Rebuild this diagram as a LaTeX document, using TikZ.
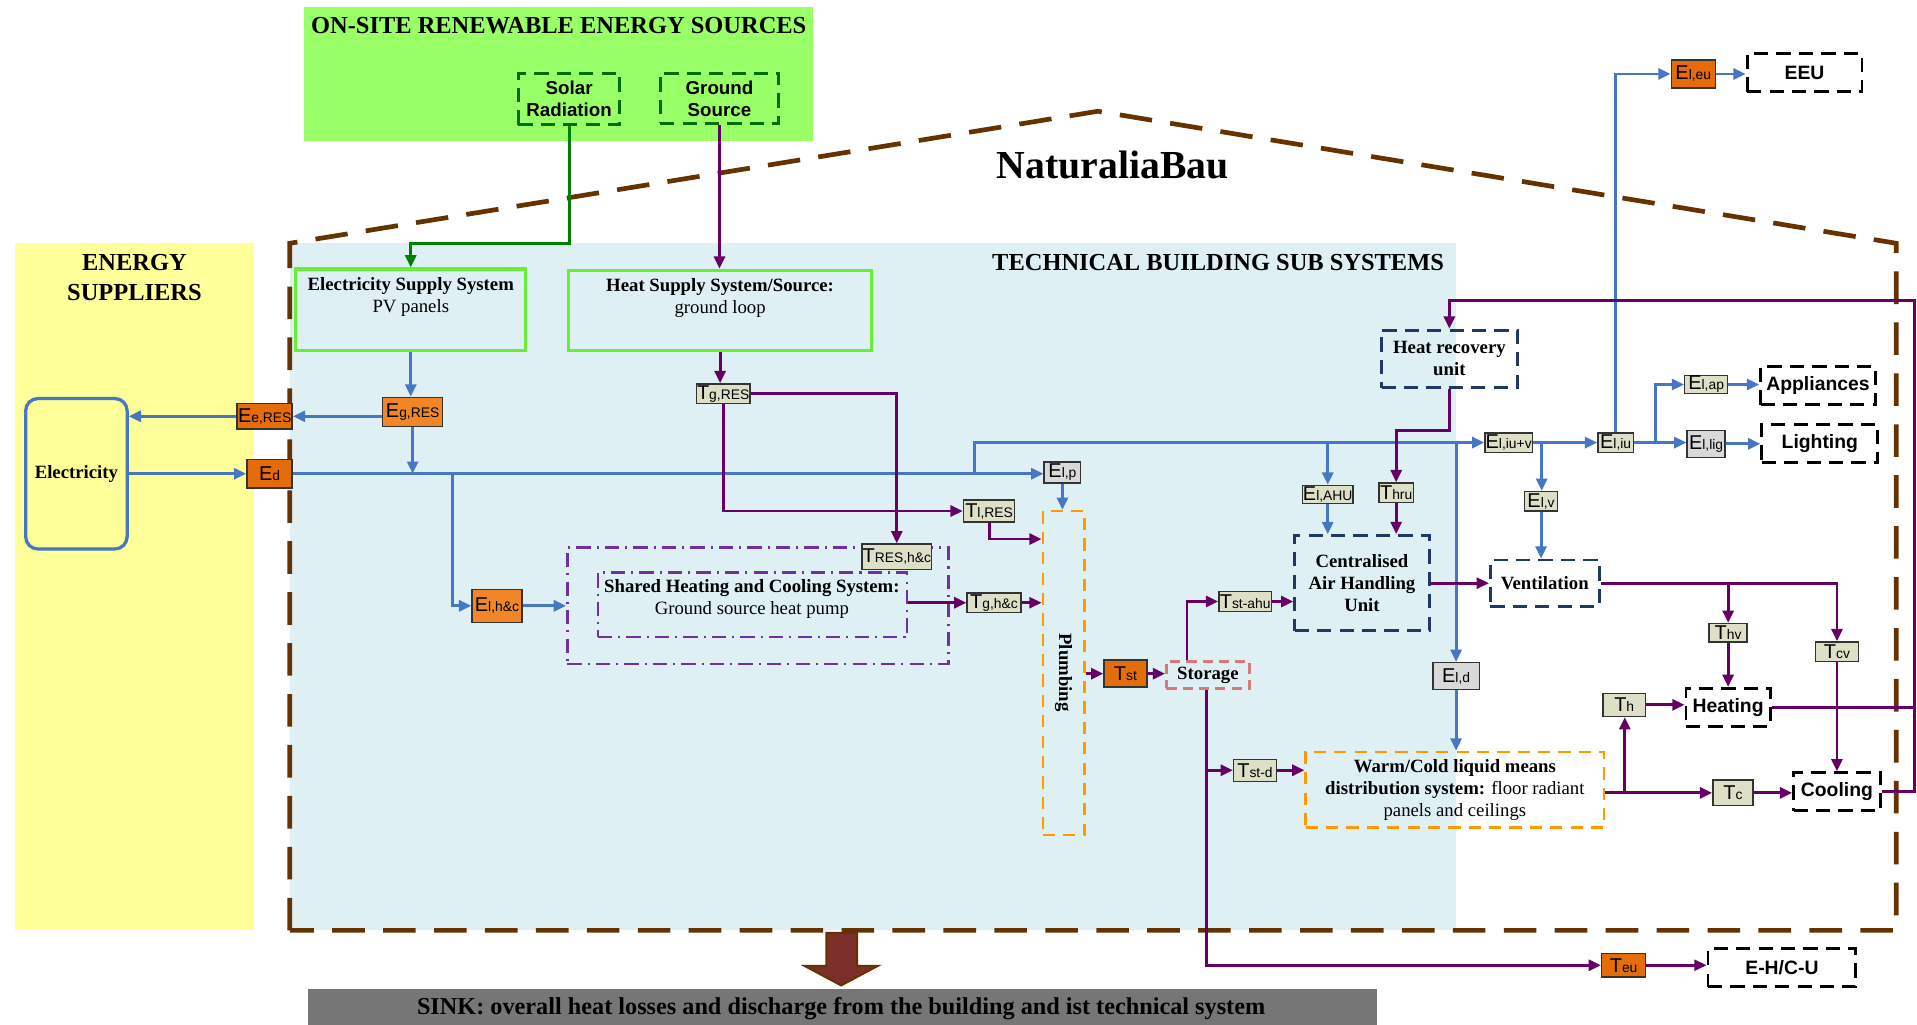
\documentclass[tikz,border=0pt]{standalone}
\usepackage{fontspec}
\setmainfont{Liberation Serif}
\setsansfont{Liberation Sans}
\usetikzlibrary{arrows.meta,calc}
\definecolor{cyel}{RGB}{255,255,153}
\definecolor{cgrn}{RGB}{153,255,102}
\definecolor{cblu}{RGB}{223,240,245}
\definecolor{cbrown}{RGB}{102,51,0}
\definecolor{eline}{RGB}{71,119,196}
\definecolor{tline}{RGB}{102,0,102}
\definecolor{gline}{RGB}{0,128,0}
\definecolor{dgreen}{RGB}{0,110,0}
\definecolor{lgreen}{RGB}{102,240,51}
\definecolor{orgA}{RGB}{228,108,10}
\definecolor{orgB}{RGB}{240,134,40}
\definecolor{beige}{RGB}{221,223,199}
\definecolor{lgray}{RGB}{217,217,217}
\definecolor{shpur}{RGB}{112,48,160}
\definecolor{plor}{RGB}{255,153,0}
\definecolor{stpink}{RGB}{214,120,120}
\definecolor{navy}{RGB}{31,56,100}
\definecolor{sinkg}{RGB}{118,118,118}
\definecolor{sinkarrow}{RGB}{123,46,42}
\newcommand\bx[7]{\node[#6,minimum width={0.6pt*(#4-#2)},minimum height={0.6pt*(#5-#3)}] (#1) at ({(#2+#4)/2},{(#3+#5)/2}) {#7};}
\newcommand\lab[2]{{\fontsize{9.8}{10}\selectfont #1}{\fontsize{6.8}{7}\selectfont #2}}
\tikzset{
 lab/.style={draw=black!80,line width=0.7pt,inner sep=0.3pt,font=\sffamily},
 eor/.style={lab,fill=orgA}, eorb/.style={lab,fill=orgB},
 ebg/.style={lab,fill=beige}, egy/.style={lab,fill=lgray},
 dbox/.style={draw=navy,line width=1.4pt,dash pattern=on 7pt off 4pt,inner sep=0pt,align=center,font=\bfseries\fontsize{9.2}{10.8}\selectfont},
 kbox/.style={dbox,draw=black,font=\sffamily\bfseries\fontsize{9.5}{11}\selectfont},
 sbox/.style={dbox,draw=dgreen,font=\sffamily\bfseries\fontsize{9.2}{10.8}\selectfont},
 obox/.style={draw=plor,line width=1.3pt,dash pattern=on 6pt off 4pt,inner sep=0pt},
 shbox/.style={draw=shpur,line width=1.3pt,dash pattern=on 7pt off 3pt on 1pt off 3pt,inner sep=0pt},
 gbox/.style={draw=lgreen,line width=1.5pt,inner sep=0pt},
 stbox/.style={draw=stpink,line width=1.3pt,dash pattern=on 5pt off 3pt,inner sep=0pt,font=\bfseries\fontsize{9.2}{10.8}\selectfont},
 txt/.style={inner sep=0pt,align=center,font=\fontsize{9.2}{10.8}\selectfont},
 arr/.style={line width=1.4pt,-{Triangle[length=6pt,width=5.4pt]}},
 ea/.style={arr,draw=eline}, ta/.style={arr,draw=tline}, ga/.style={arr,draw=gline},
 tl/.style={line width=1.4pt,draw=tline},
 house/.style={draw=cbrown,line width=2.3pt,dash pattern=on 16pt off 9pt}
}
\begin{document}
\begin{tikzpicture}[x=0.6pt,y=-0.6pt]
\fill[white] (0,0) rectangle (1568,838);
\path[use as bounding box] (0,0) rectangle (1568,838);
% regions
\fill[cyel] (12,199) rectangle (208,761);
\fill[cgrn] (249,6) rectangle (665,115);
\fill[cblu] (237,199) rectangle (1191,761);
\fill[sinkg] (252,809) rectangle (1126,838);
\draw[house] (237,761) -- (237,199) -- (898,91) -- (1551,199) -- (1551,761) -- cycle;
\draw[fill=sinkarrow,draw=cbrown,line width=1pt] (676,763) -- (701,763) -- (701,790) -- (718,790) -- (688,806) -- (658,790) -- (676,790) -- cycle;
% titles
\node[align=center,font=\bfseries\fontsize{12}{14.4}\selectfont] at (110,227) {ENERGY\\SUPPLIERS};
\node[font=\bfseries\fontsize{12}{13}\selectfont] at (457,21) {ON-SITE RENEWABLE ENERGY SOURCES};
\node[anchor=east,font=\bfseries\fontsize{12}{13}\selectfont] at (1187,215) {TECHNICAL BUILDING SUB SYSTEMS};
\node[font=\bfseries\fontsize{19.5}{22}\selectfont] at (910,135) {NaturaliaBau};
\node[font=\bfseries\fontsize{11.9}{13}\selectfont] at (688,825) {SINK: overall heat losses and discharge from the building and ist technical system};
% big boxes
\bx{elec}{21}{326}{104}{449}{draw=eline,line width=1.6pt,rounded corners=6pt,font=\bfseries\fontsize{9.2}{11}\selectfont}{Electricity}
\bx{srad}{424}{60}{507}{102}{sbox}{Solar\\Radiation}
\bx{gsrc}{540}{60}{637}{101}{sbox}{Ground\\Source}
\bx{ess}{242}{220}{430}{287}{gbox}{}
\node[txt] at (336,243) {\textbf{Electricity Supply System}\\PV panels};
\bx{hss}{465}{221}{713}{287}{gbox}{}
\node[txt] at (589,244) {\textbf{Heat Supply System/Source:}\\ground loop};
\bx{shout}{464}{448}{776}{543}{shbox}{}
\bx{shin}{489}{468}{742}{521}{shbox}{}
\node[txt] at (615,490) {\textbf{Shared Heating and Cooling System:}\\Ground source heat pump};
\bx{plumb}{853}{418}{887}{683}{obox}{}
\node[rotate=-90,font=\bfseries\fontsize{9.2}{10.8}\selectfont] at (870,550) {Plumbing};
\bx{stor}{954}{541}{1022}{563}{stbox}{Storage}
\bx{ahu}{1059}{438}{1169}{516}{dbox}{Centralised\\Air Handling\\Unit}
\bx{hru}{1130}{270}{1241}{317}{dbox}{Heat recovery\\unit}
\bx{vent}{1219}{458}{1308}{496}{dbox}{Ventilation}
\bx{wc}{1068}{615}{1312}{677}{obox,txt}{\textbf{Warm/Cold liquid means}\\\textbf{distribution system:} floor radiant\\panels and ceilings}
\bx{eeu}{1429}{44}{1523}{75}{kbox}{EEU}
\bx{appl}{1440}{300}{1534}{331}{kbox}{Appliances}
\bx{light}{1441}{347}{1536}{378}{kbox}{Lighting}
\bx{heat}{1379}{563}{1448}{594}{kbox}{Heating}
\bx{cool}{1467}{632}{1538}{663}{kbox}{Cooling}
\bx{ehcu}{1397}{776}{1518}{807}{kbox}{E-H/C-U}
% labels
\bx{eeres}{194}{330}{239}{351}{eor}{\lab{E}{e,RES}}
\bx{ed}{202}{376}{239}{399}{eor}{\lab{E}{d}}
\bx{egres}{313}{325}{362}{349}{eorb}{\lab{E}{g,RES}}
\bx{eihc}{386}{482}{427}{509}{eorb}{\lab{E}{l,h\&c}}
\bx{tgres}{570}{314}{613}{330}{ebg}{\lab{T}{g,RES}}
\bx{tires}{788}{409}{830}{427}{ebg}{\lab{T}{l,RES}}
\bx{treshc}{705}{445}{762}{466}{ebg}{\lab{T}{RES,h\&c}}
\bx{tghc}{791}{485}{835}{501}{ebg}{\lab{T}{g,h\&c}}
\bx{eip}{854}{378}{884}{395}{egy}{\lab{E}{l,p}}
\bx{tst}{903}{540}{938}{562}{eor}{\lab{T}{st}}
\bx{tstahu}{997}{484}{1040}{500}{ebg}{\lab{T}{st-ahu}}
\bx{tstd}{1009}{621}{1044}{639}{ebg}{\lab{T}{st-d}}
\bx{eiahu}{1066}{397}{1106}{412}{ebg}{\lab{E}{l,AHU}}
\bx{thru}{1128}{395}{1156}{411}{ebg}{\lab{T}{hru}}
\bx{eiuv}{1215}{354}{1253}{370}{ebg}{\lab{E}{l,iu+v}}
\bx{eiu}{1307}{354}{1336}{370}{ebg}{\lab{E}{l,iu}}
\bx{eiv}{1247}{402}{1274}{418}{ebg}{\lab{E}{l,v}}
\bx{eid}{1172}{542}{1210}{564}{egy}{\lab{E}{l,d}}
\bx{eieu}{1367}{49}{1403}{72}{eor}{\lab{E}{l,eu}}
\bx{eiap}{1378}{307}{1413}{322}{ebg}{\lab{E}{l,ap}}
\bx{eilig}{1380}{352}{1411}{374}{egy}{\lab{E}{l,lig}}
\bx{thv}{1398}{510}{1429}{525}{ebg}{\lab{T}{hv}}
\bx{tcv}{1485}{525}{1520}{541}{ebg}{\lab{T}{cv}}
\bx{th}{1311}{567}{1346}{586}{ebg}{\lab{T}{h}}
\bx{tc}{1401}{638}{1434}{659}{ebg}{\lab{T}{c}}
\bx{teu}{1310}{780}{1346}{799}{eor}{\lab{T}{eu}}
% junctions
\coordinate (j1) at (370,387);
\coordinate (j2) at (797,387);
\coordinate (j3) at (988,630);
\coordinate (j4) at (1086,362);
\coordinate (j5) at (1261,362);
\coordinate (j6) at (1191,362);
\coordinate (j7) at (1354,362);
\coordinate (j8) at (1413.5,477);
\coordinate (j9) at (1329,648);
\coordinate (rr) at (1566,246);
% green / source connectors
\draw[ga] (srad.south) -- (srad.south |- 0,199) -| (ess.north);
\draw[ta] (gsrc.south) -- (gsrc.south |- hss.north);
% electricity
\draw[ea] (ess.south) -- (ess.south |- egres.north);
\draw[ea] (egres.west |- eeres.east) -- (eeres.east);
\draw[ea] (eeres.west) -- (eeres.west -| elec.east);
\draw[ea] (elec.east |- ed.west) -- (ed.west);
\draw[ea] (egres.south) -- (egres.south |- ed.east);
\draw[ea] (ed.east) -- (ed.east -| eip.west);
\draw[ea] (j1) |- (eihc.west);
\draw[ea] (eihc.east) -- (eihc.east -| shout.west);
\draw[ea] (j2) |- (eiuv.west);
\draw[ea] (eip.south) -- (eip.south |- plumb.north);
\draw[ea] (j4) -- (j4 |- eiahu.north);
\draw[ea] (eiahu.south) -- (eiahu.south |- ahu.north);
\draw[ea] (eiuv.east) -- (eiuv.east -| eiu.west);
\draw[ea] (j5) -- (j5 |- eiv.north);
\draw[ea] (eiv.south) -- (eiv.south |- vent.north);
\draw[ea] (j6) -- (j6 |- eid.north);
\draw[ea] (eid.south) -- (eid.south |- wc.north);
\draw[ea] (eiu.north) |- (eieu.west);
\draw[ea] (eieu.east) -- (eieu.east -| eeu.west);
\draw[ea] (eiu.east) -- (eiu.east -| eilig.west);
\draw[ea] (j7) |- (eiap.west);
\draw[ea] (eiap.east) -- (eiap.east -| appl.west);
\draw[ea] (eilig.east) -- (eilig.east -| light.west);
% heat
\draw[ta] (hss.south) -- (hss.south |- tgres.north);
\draw[ta] (tgres.east) -| (treshc.north);
\draw[ta] (tgres.south) |- (tires.west);
\draw[ta] (tires.south) |- ($(plumb.north west)+(0,24)$);
\draw[ta] (shin.east |- tghc.west) -- (tghc.west);
\draw[ta] (tghc.east) -- (tghc.east -| plumb.west);
\draw[ta] (plumb.east |- tst.west) -- (tst.west);
\draw[ta] (tst.east) -- (tst.east -| stor.west);
\draw[ta] ($(stor.north west)+(18,0)$) |- (tstahu.west);
\draw[ta] (tstahu.east) -- (tstahu.east -| ahu.west);
\draw[ta] ($(stor.south west)+(34,0)$) |- (teu.west);
\draw[ta] (j3) -- (j3 -| tstd.west);
\draw[ta] (tstd.east) -- (tstd.east -| wc.west);
\draw[ta] (teu.east) -- (teu.east -| ehcu.west);
\draw[ta] (hru.south) -- ++(0,34) -| (thru.north);
\draw[ta] (thru.south) -- (thru.south |- ahu.north);
\draw[ta] (cool.east) -| (rr) -| (hru.north);
\draw[tl] (heat.east) -- (heat.east -| rr);
\draw[ta] (ahu.east |- vent.west) -- (vent.west);
\draw[ta] (vent.east) -| (tcv.north);
\draw[ta] (j8) -- (j8 |- thv.north);
\draw[ta] (thv.south) -- (thv.south |- heat.north);
\draw[ta] (tcv.south) -- (tcv.south |- cool.north);
\draw[ta] (wc.east |- tc.west) -- (tc.west);
\draw[ta] (j9) -- (j9 |- th.south);
\draw[ta] (th.east) -- (th.east -| heat.west);
\draw[ta] (tc.east) -- (tc.east -| cool.west);
\end{tikzpicture}
\end{document}
